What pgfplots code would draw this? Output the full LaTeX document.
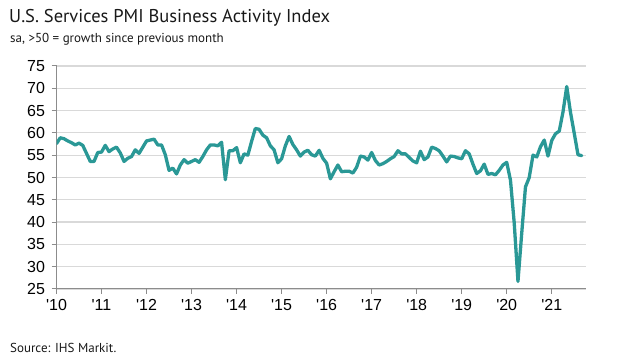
\documentclass[border=0pt]{standalone}
\usepackage{fontspec}
\setmainfont{PT Sans}
\newfontfamily\arialfont{Liberation Sans}
\usepackage{pgfplots}
\pgfplotsset{compat=1.18}
\definecolor{lineteal}{RGB}{42,152,150}
\definecolor{gridg}{RGB}{217,217,217}
\definecolor{axisg}{RGB}{140,140,140}
\begin{document}
\begin{tikzpicture}
\useasboundingbox (0pt,0pt) rectangle (617pt,363pt);
\node[anchor=base west, inner sep=0pt, font=\fontsize{18.5}{18.5}\selectfont, text=black!90] at (9pt,340.5pt) {U.S. Services PMI Business Activity Index};
\node[anchor=base west, inner sep=0pt, font=\fontsize{13}{13}\selectfont, text=black!90] at (10pt,320.5pt) {sa, >50 = growth since previous month};
\node[anchor=base west, inner sep=0pt, font=\fontsize{13}{13}\selectfont, text=black!90] at (10pt,10pt) {Source: IHS Markit.};
\begin{axis}[
  at={(56.5pt,74pt)}, anchor=south west,
  scale only axis, width=529pt, height=223pt,
  xmin=0, xmax=141, ymin=25, ymax=75,
  axis x line*=bottom, axis y line*=left,
  axis line style={axisg, line width=1pt},
  ytick={25,30,...,75},
  xtick={0,12,...,132},
  xticklabels={\textquotesingle10,\textquotesingle11,\textquotesingle12,\textquotesingle13,\textquotesingle14,\textquotesingle15,\textquotesingle16,\textquotesingle17,\textquotesingle18,\textquotesingle19,\textquotesingle20,\textquotesingle21},
  ymajorgrids, grid style={gridg, line width=1.2pt},
  tick align=outside, major tick length=5pt,
  tick style={axisg, line width=1pt},
  ticklabel style={font=\arialfont\fontsize{16}{16}\selectfont, text=black},
  /pgf/number format/assume math mode=true,
  yticklabel style={xshift=-3pt},
  xticklabel style={yshift=-2pt},
]
\addplot[lineteal, line width=3.3pt, line join=round, line cap=round] table[x=m, y=v] {
m v
0 57.6
1 58.9
2 58.7
3 58.2
4 57.8
5 57.3
6 57.7
7 57.2
8 55.4
9 53.6
10 53.6
11 55.6
12 55.7
13 57.2
14 55.8
15 56.4
16 56.8
17 55.5
18 53.6
19 54.3
20 54.7
21 56.2
22 55.4
23 56.8
24 58.2
25 58.4
26 58.6
27 57.3
28 57.3
29 55.1
30 51.6
31 52.1
32 50.8
33 52.8
34 54.0
35 53.2
36 53.6
37 54.0
38 53.4
39 54.7
40 56.2
41 57.3
42 57.3
43 57.1
44 57.9
45 49.5
46 56.0
47 56.0
48 56.7
49 53.3
50 55.3
51 55.0
52 58.1
53 61.0
54 60.8
55 59.5
56 58.9
57 57.1
58 56.2
59 53.3
60 54.2
61 57.1
62 59.2
63 57.4
64 56.2
65 54.8
66 55.7
67 56.1
68 55.1
69 54.8
70 56.1
71 54.3
72 53.2
73 49.7
74 51.3
75 52.8
76 51.3
77 51.4
78 51.4
79 51.0
80 52.3
81 54.8
82 54.6
83 53.9
84 55.6
85 53.8
86 52.8
87 53.1
88 53.6
89 54.2
90 54.7
91 56.0
92 55.3
93 55.3
94 54.5
95 53.7
96 53.3
97 55.9
98 54.0
99 54.6
100 56.8
101 56.5
102 56.0
103 54.8
104 53.5
105 54.8
106 54.7
107 54.4
108 54.2
109 56.0
110 55.3
111 53.0
112 50.9
113 51.5
114 53.0
115 50.7
116 50.9
117 50.6
118 51.6
119 52.8
120 53.4
121 49.4
122 39.8
123 26.7
124 37.5
125 47.9
126 50.0
127 55.0
128 54.6
129 56.9
130 58.4
131 54.8
132 58.3
133 59.8
134 60.4
135 64.7
136 70.4
137 64.6
138 59.9
139 55.1
140 54.9
};
\end{axis}
\end{tikzpicture}
\end{document}
